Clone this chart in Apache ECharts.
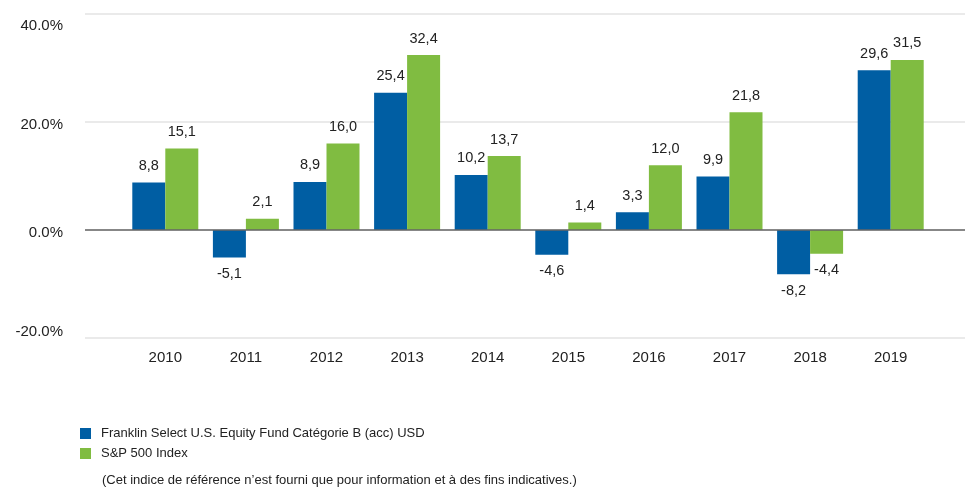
<!DOCTYPE html>
<html>
<head>
<meta charset="utf-8">
<script src="https://cdn.jsdelivr.net/npm/echarts@6/dist/echarts.min.js"></script>
<style>
  html, body { margin: 0; padding: 0; background: #fff; }
  #chart { width: 965px; height: 488px; }
</style>
</head>
<body>
<div id="chart"></div>
<script>
// années
const years = ['2010', '2011', '2012', '2013', '2014', '2015', '2016', '2017', '2018', '2019'];
// performances annuelles (%)
const fundValues = [8.8, -5.1, 8.9, 25.4, 10.2, -4.6, 3.3, 9.9, -8.2, 29.6];
const indexValues = [15.1, 2.1, 16.0, 32.4, 13.7, 1.4, 12.0, 21.8, -4.4, 31.5];
const fundName = 'Franklin Select U.S. Equity Fund Catégorie B (acc) USD';
const indexName = 'S&P 500 Index';
const note = '(Cet indice de référence n’est fourni que pour information et à des fins indicatives.)';

const FONT = 'Liberation Sans, Arial, sans-serif';
const fmt = v => v.toFixed(1).replace('.', ',');

// décalage vertical des libellés de l'axe y (comme dans l'original)
const yLabelShift = { '40': 12, '20': 3, '0': 3, '-20': -6 };

const chart = echarts.init(document.getElementById('chart'));

const label = {
  show: true,
  position: 'outside',
  color: '#222',
  fontFamily: FONT,
  fontSize: 14.5,
  distance: 9,
  formatter: p => fmt(p.value)
};

chart.setOption({
  animation: false,
  textStyle: { fontFamily: FONT },
  // grille 0 : lignes de fond sur toute la largeur, grille 1 : barres
  grid: [
    { left: 85, right: 0, top: 14, height: 324 },
    { left: 125, right: 34, top: 14, height: 324 }
  ],
  legend: {
    orient: 'vertical',
    left: 80,
    top: 427,
    padding: 0,
    itemWidth: 11,
    itemHeight: 11,
    itemGap: 7,
    icon: 'rect',
    textStyle: { fontFamily: FONT, fontSize: 13, color: '#222', lineHeight: 11, padding: [0, 0, 0, 5] },
    data: [fundName, indexName]
  },
  graphic: [{
    type: 'text',
    left: 102,
    top: 474,
    style: { text: note, font: '13px ' + FONT, fill: '#222' }
  }],
  xAxis: [
    { gridIndex: 0, type: 'value', show: false, min: 0, max: 1 },
    {
      gridIndex: 1,
      type: 'category',
      data: years,
      axisLine: { show: false },
      axisTick: { show: false },
      axisLabel: { color: '#222', fontSize: 15, fontFamily: FONT, margin: 12 }
    }
  ],
  yAxis: [
    {
      gridIndex: 0,
      type: 'value',
      min: -20, max: 40, interval: 20,
      axisLine: { show: false },
      axisTick: { show: false },
      axisLabel: {
        color: '#222', fontSize: 15, fontFamily: FONT, margin: 22,
        formatter: v => {
          const s = yLabelShift[String(v)] || 0;
          return s >= 0 ? '{d' + s + '|' + v.toFixed(1) + '%}' : '{u' + (-s) + '|' + v.toFixed(1) + '%}';
        },
        rich: {
          d12: { padding: [24, 0, 0, 0], fontSize: 15, color: '#222' },
          d3: { padding: [6, 0, 0, 0], fontSize: 15, color: '#222' },
          u6: { padding: [0, 0, 12, 0], fontSize: 15, color: '#222' }
        }
      },
      splitLine: { lineStyle: { color: '#e3e3e3', width: 1.5 } }
    },
    {
      gridIndex: 1,
      type: 'value',
      min: -20, max: 40, interval: 20,
      show: false
    }
  ],
  series: [
    {
      type: 'line',
      xAxisIndex: 0, yAxisIndex: 0,
      data: [[0, 0], [1, 0]],
      symbol: 'none',
      silent: true,
      lineStyle: { color: '#666', width: 1.5 },
      z: 5,
      legendHoverLink: false
    },
    {
      name: fundName,
      type: 'bar',
      xAxisIndex: 1, yAxisIndex: 1,
      data: fundValues,
      barWidth: 33,
      barGap: '0%',
      itemStyle: { color: '#005ea3' },
      label: label
    },
    {
      name: indexName,
      type: 'bar',
      xAxisIndex: 1, yAxisIndex: 1,
      data: indexValues,
      barWidth: 33,
      itemStyle: { color: '#80bc41' },
      label: label
    }
  ]
});
</script>
</body>
</html>
